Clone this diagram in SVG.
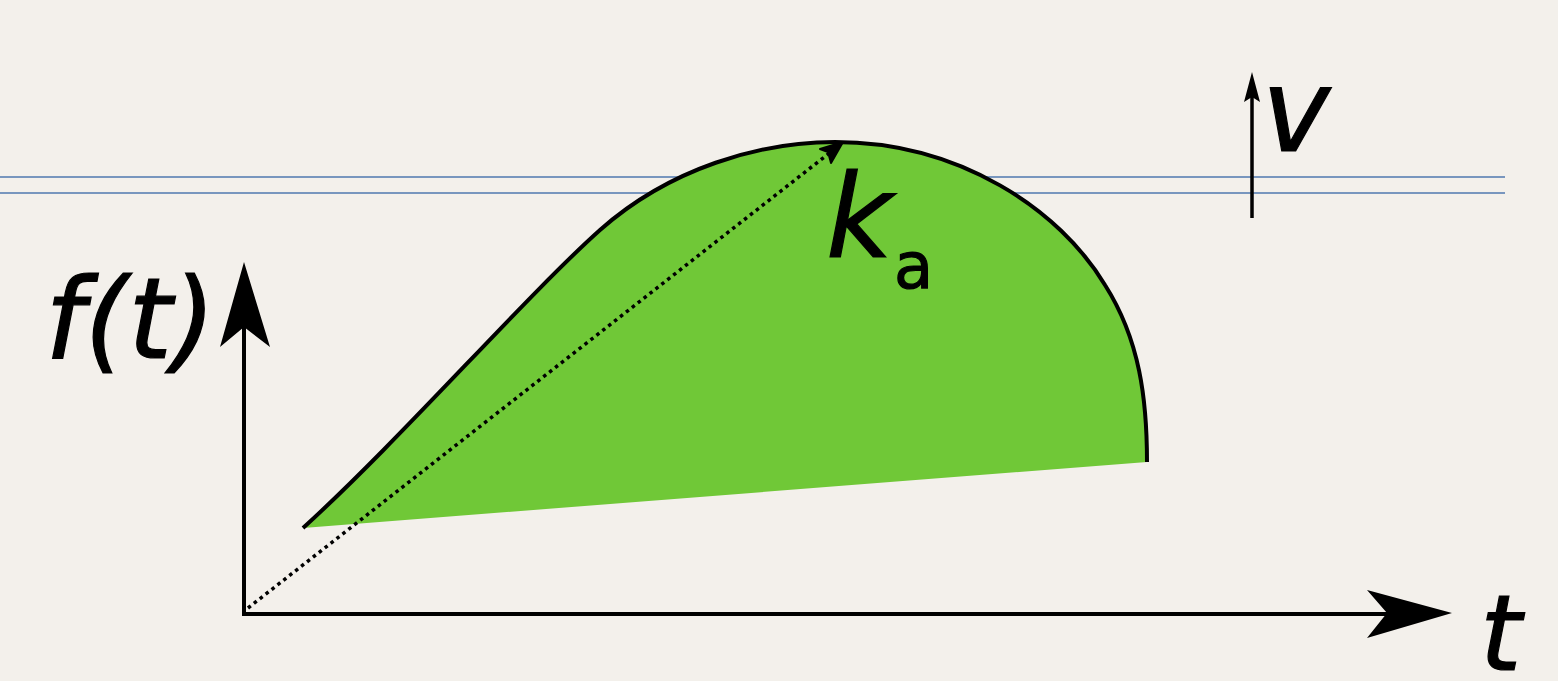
<svg xmlns="http://www.w3.org/2000/svg" width="1558" height="681" viewBox="0 0 1558 681">
<defs>
<style>
.axis{stroke:#000;stroke-width:4;fill:none}
.guide{stroke:#7896be;stroke-width:2.2;fill:none}
.lbl{font-family:"DejaVu Sans",sans-serif;fill:#000;stroke:#000;stroke-width:1.2}
.it{font-style:oblique}
</style>
</defs>
<rect width="1558" height="681" fill="#f3f0eb"/>
<g id="guides">
<line class="guide" x1="0" y1="177" x2="1505" y2="177"/>
<line class="guide" x1="0" y1="193" x2="1505" y2="193"/>
</g>
<g id="area">
<path d="M303,528 C400,440 525,297 600,230 C670,168 760,142 835,142 C960,142 1060,210 1105,285 C1140,340 1147,400 1147,462 Z" fill="#70c837" stroke="none"/>
<path d="M303,528 C400,440 525,297 600,230 C670,168 760,142 835,142 C960,142 1060,210 1105,285 C1140,340 1147,400 1147,462" fill="none" stroke="#000" stroke-width="4"/>
</g>
<g id="connectors">
<line class="axis" x1="244" y1="616" x2="244" y2="320"/>
<polygon points="244,262 270,347 244,327 220,347" fill="#000"/>
<line class="axis" x1="242" y1="614" x2="1395" y2="614"/>
<polygon points="1452,613 1367,638 1387,613 1367,590" fill="#000"/>
<line x1="248" y1="608" x2="832" y2="151" stroke="#000" stroke-width="3.5" stroke-dasharray="3.5,4"/>
<polygon points="843,142 820,149 828,152 831,163" fill="#000" stroke="#000" stroke-width="2" stroke-linejoin="round"/>
<line x1="1252" y1="218" x2="1252" y2="95" stroke="#000" stroke-width="3.5"/>
<polygon points="1252,72 1260,102 1252,97 1244,102" fill="#000"/>
</g>
<g id="labels">
<text class="lbl it" x="45" y="358" font-size="112">f(t)</text>
<text class="lbl it" x="1480" y="670" font-size="106">t</text>
<text class="lbl it" x="1262" y="151" font-size="115">v</text>
<text class="lbl it" x="826" y="257" font-size="115">k</text>
<text class="lbl" x="894" y="288" font-size="64">a</text>
</g>
</svg>
